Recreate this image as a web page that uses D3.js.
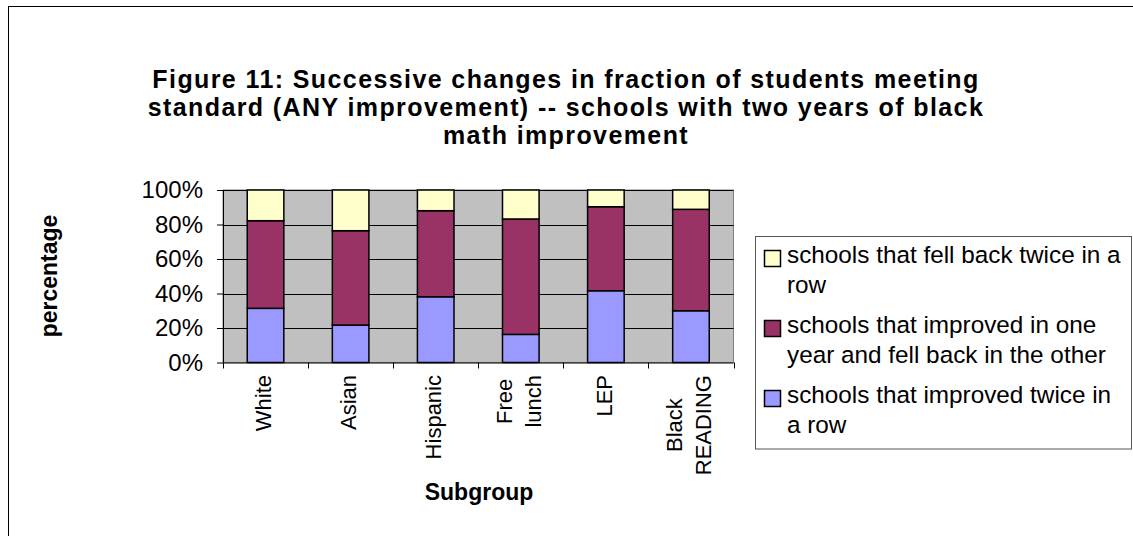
<!DOCTYPE html>
<html>
<head>
<meta charset="utf-8">
<script src="https://cdn.jsdelivr.net/npm/d3@7"></script>
<style>
  html, body { margin: 0; padding: 0; background: #fff; }
  svg { display: block; }
  text { font-family: "Liberation Sans", Arial, sans-serif; fill: #000; }
</style>
</head>
<body>
<svg id="chart" width="1133" height="536"></svg>
<script>
// ---- data ----
const categories = ["White", "Asian", "Hispanic", "Free\nlunch", "LEP", "Black\nREADING"];
const seriesNames = [
  "schools that improved twice in a row",
  "schools that improved in one year and fell back in the other",
  "schools that fell back twice in a row"
];
const improvedTwice = [31.4, 21.7, 38.1, 16.3, 41.6, 30.0];
const improvedOnce  = [50.8, 54.7, 49.9, 66.9, 48.7, 58.8];
const fellBackTwice = [17.8, 23.6, 12.0, 16.8, 9.7, 11.2];
const yTicks = [0, 20, 40, 60, 80, 100];
const titleLines = [
  "Figure 11: Successive changes in fraction of students meeting",
  "standard (ANY improvement) -- schools with two years of black",
  "math improvement"
];
const legendLines = [
  ["schools that fell back twice in a", "row"],
  ["schools that improved in one", "year and fell back in the other"],
  ["schools that improved twice in", "a row"]
];
const colors = ["#9999ff", "#993366", "#ffffcc"];

// ---- layout ----
const svg = d3.select("#chart");
const plot = { left: 223, right: 733.5, top: 190, bottom: 362.5 };

// outer chart border (extends past the image on right/bottom)
svg.append("rect").attr("x", 8.5).attr("y", 6.5).attr("width", 1200).attr("height", 600)
  .attr("fill", "none").attr("stroke", "#000").attr("stroke-width", 1);

// title
svg.append("g").selectAll("text").data(titleLines).join("text")
  .attr("x", 566).attr("y", (d, i) => 88 + i * 28)
  .attr("text-anchor", "middle").attr("font-weight", "bold").attr("font-size", 25)
  .attr("letter-spacing", 1.4)
  .text(d => d);

const x = d3.scaleBand().domain(categories).range([plot.left, plot.right])
  .paddingInner(0.57).paddingOuter(0.285);
const y = d3.scaleLinear().domain([0, 100]).range([plot.bottom, plot.top]);

// plot background
svg.append("rect").attr("x", plot.left).attr("y", plot.top)
  .attr("width", plot.right - plot.left).attr("height", plot.bottom - plot.top)
  .attr("fill", "#c0c0c0").attr("stroke", "#808080").attr("stroke-width", 1);

// gridlines
svg.append("g").selectAll("line").data(yTicks.slice(1)).join("line")
  .attr("x1", plot.left).attr("x2", plot.right)
  .attr("y1", d => Math.round(y(d)) + 0.5).attr("y2", d => Math.round(y(d)) + 0.5)
  .attr("stroke", "#000").attr("stroke-width", 1);

// stacked bars
const rows = categories.map((c, i) => ({ cat: c, s0: improvedTwice[i], s1: improvedOnce[i], s2: fellBackTwice[i] }));
const stack = d3.stack().keys(["s0", "s1", "s2"])(rows);
svg.append("g").selectAll("g").data(stack).join("g")
  .attr("fill", (d, i) => colors[i])
  .selectAll("rect").data(d => d).join("rect")
  .attr("x", d => x(d.data.cat)).attr("width", x.bandwidth())
  .attr("y", d => y(d[1])).attr("height", d => y(d[0]) - y(d[1]))
  .attr("stroke", "#000").attr("stroke-width", 1.5);

// y axis
const yAxis = svg.append("g").attr("transform", `translate(${plot.left},0)`)
  .call(d3.axisLeft(y).tickValues(yTicks).tickSize(6).tickPadding(14).tickFormat(d => d + "%"));
yAxis.select(".domain").attr("stroke", "#000").attr("d", `M0.5,${plot.top}V${plot.bottom}`);
yAxis.selectAll(".tick line").attr("stroke", "#000");
yAxis.selectAll(".tick text").attr("font-size", 24).attr("font-family", "Liberation Sans, Arial, sans-serif").attr("fill", "#000");

// x axis
const xAxis = svg.append("g").attr("transform", `translate(0,${plot.bottom})`);
xAxis.append("line").attr("x1", plot.left).attr("x2", plot.right).attr("y1", 0.5).attr("y2", 0.5).attr("stroke", "#000");
const step = x.step();
const tickXs = d3.range(categories.length + 1).map(i => x(categories[0]) - x.paddingOuter() * step + i * step);
xAxis.selectAll("line.t").data(tickXs).join("line").attr("class", "t")
  .attr("x1", d => Math.round(d) + 0.5).attr("x2", d => Math.round(d) + 0.5)
  .attr("y1", 0).attr("y2", 6).attr("stroke", "#000");

// category labels (rotated, multi-line centered)
const labelFont = 22, lineGap = 29, labelTop = 375;
categories.forEach(c => {
  const lines = c.split("\n");
  const cx = x(c) + x.bandwidth() / 2 - 2;
  const g = svg.append("g");
  const texts = lines.map((ln, i) => g.append("text").attr("font-size", labelFont).text(ln));
  const maxW = d3.max(texts, t => t.node().getComputedTextLength());
  texts.forEach((t, i) => {
    const gx = cx + (i - (lines.length - 1) / 2) * lineGap;
    const yy = labelTop + maxW / 2;
    t.attr("text-anchor", "middle").attr("dy", "0.35em")
      .attr("transform", `translate(${gx},${yy}) rotate(-90)`);
  });
});

// axis titles
svg.append("text").attr("transform", "translate(57,276) rotate(-90)")
  .attr("text-anchor", "middle").attr("font-weight", "bold").attr("font-size", 23).text("percentage");
svg.append("text").attr("x", 479).attr("y", 500)
  .attr("text-anchor", "middle").attr("font-weight", "bold").attr("font-size", 23).text("Subgroup");

// legend
const leg = svg.append("g");
leg.append("rect").attr("x", 755.5).attr("y", 236.5).attr("width", 376).attr("height", 212.5)
  .attr("fill", "#fff").attr("stroke", "#555").attr("stroke-width", 1);
const legColors = [colors[2], colors[1], colors[0]];
legendLines.forEach((lines, i) => {
  const base = 263 + i * 70;
  leg.append("rect").attr("x", 764.5).attr("y", base - 12.5).attr("width", 16).attr("height", 16)
    .attr("fill", legColors[i]).attr("stroke", "#000").attr("stroke-width", 1.5);
  lines.forEach((ln, j) => {
    leg.append("text").attr("x", 787).attr("y", base + j * 30).attr("font-size", 24.3).text(ln);
  });
});
</script>
</body>
</html>
